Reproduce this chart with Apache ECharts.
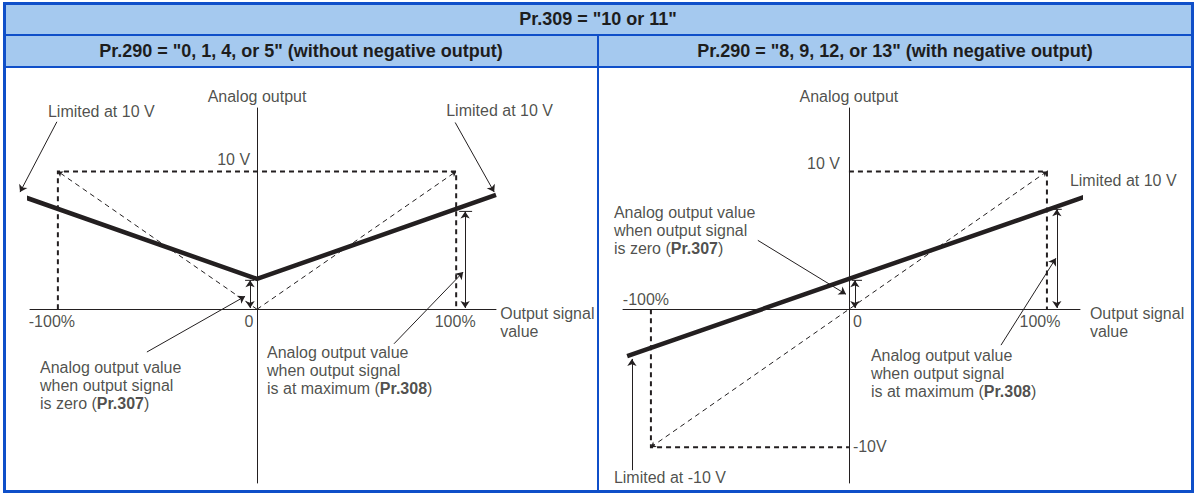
<!DOCTYPE html>
<html>
<head>
<meta charset="utf-8">
<title>Pr.309 analog output</title>
<script src="https://cdn.jsdelivr.net/npm/echarts@6/dist/echarts.min.js"></script>
<style>
  html, body { margin: 0; padding: 0; background: #ffffff; }
  #chart { width: 1197px; height: 495px; }
</style>
</head>
<body>
<div id="chart"></div>
<script>
// ---- table headings ----
const titleTop = 'Pr.309 = "10 or 11"';
const titleLeft = 'Pr.290 = "0, 1, 4, or 5" (without negative output)';
const titleRight = 'Pr.290 = "8, 9, 12, or 13" (with negative output)';

// ---- axis ticks (output signal %, analog output V) ----
const percentTicks = [-100, 0, 100];
const percentLabels = ['-100%', '0', '100%'];
const voltTop = 10;
const voltBottom = -10;

// ---- output characteristic (signal %, volts) ----
const leftOutput = [[-120, 8.3], [0, 2.2], [120, 8.3]];
const rightOutput = [[-112, -3.4], [0, 2.2], [120, 8.2]];

// ---- settings shown by the double arrows (V) ----
const zeroOutput = 2.1;      // Pr.307
const maxOutputLeft = 7.1;   // Pr.308, left
const maxOutputRight = 7.25; // Pr.308, right

// ---- reference frames (dashed) ----
const leftFrame = [[-100, 0], [-100, voltTop], [100, voltTop], [100, 0]];
const rightFrameTop = [[0, voltTop], [100, voltTop], [100, 0]];
const rightFrameBottom = [[-100, 0], [-100, voltBottom], [0, voltBottom]];

// ---- annotation texts ----
const axisYName = 'Analog output';
const axisXName = 'Output signal\nvalue';
const limitedTop = 'Limited at 10 V';
const limitedBottom = 'Limited at -10 V';
const zeroNote = 'Analog output value\nwhen output signal\nis zero ({b|Pr.307})';
const maxNote = 'Analog output value\nwhen output signal\nis at maximum ({b|Pr.308})';

const INK = '#231f20';
const BLUE = '#0f4fc9';
const FILL = '#a5c9ef';
const FONT = '"Liberation Sans", Arial, Helvetica, sans-serif';
const FS = 16;

const chart = echarts.init(document.getElementById('chart'), null, { renderer: 'svg' });

function axesFor(idx, xMin, xMax) {
  const common = {
    axisTick: { show: false }, axisLabel: { show: false }, splitLine: { show: false },
    axisLine: { show: true, onZero: true, lineStyle: { color: INK, width: 1 } }
  };
  return {
    x: Object.assign({ type: 'value', gridIndex: idx, min: xMin, max: xMax }, common),
    y: Object.assign({ type: 'value', gridIndex: idx, min: -12.6, max: 14.6 }, common)
  };
}
// left: 0 % at x=257, 1.99 px per %; right: 0 % at x=849, 1.98 px per %
const axL = axesFor(0, -114, 120);
const axR = axesFor(1, -114.1, 116.7);

function textSeries(idx, items) {
  return {
    type: 'scatter', xAxisIndex: idx, yAxisIndex: idx, symbolSize: 0, clip: false,
    silent: true, z: 10,
    data: items.map(t => ({
      value: [t.x, t.y],
      label: {
        show: true, position: 'inside', formatter: t.text,
        align: t.align || 'left', verticalAlign: t.va || 'middle',
        color: INK, fontFamily: FONT, fontSize: FS, lineHeight: 18,
        rich: { b: { fontWeight: 'bold', color: INK, fontFamily: FONT, fontSize: FS, lineHeight: 18 } }
      }
    }))
  };
}

function polyline(idx, data, width, dash, z) {
  return {
    type: 'line', xAxisIndex: idx, yAxisIndex: idx, data: data, symbol: 'none',
    silent: true, animation: false, z: z || 2,
    lineStyle: { color: INK, width: width, type: dash ? [5, 4] : 'solid', cap: 'butt', join: 'miter' }
  };
}

function arrows(idx, segs, width, dash, size) {
  return {
    type: 'lines', coordinateSystem: 'cartesian2d', xAxisIndex: idx, yAxisIndex: idx,
    silent: true, animation: false, clip: false, z: 4,
    symbolSize: size || 7,
    lineStyle: { color: INK, width: width, type: dash ? [5, 4] : 'solid', opacity: 1, curveness: 0 },
    data: segs.map(s => ({ coords: [s.from, s.to], symbol: s.sym }))
  };
}

const series = [
  // left panel
  polyline(0, leftFrame, 2, true),
  arrows(0, [
    { from: [0, 0], to: [-100, voltTop], sym: ['none', 'arrow'] },
    { from: [0, 0], to: [100, voltTop], sym: ['none', 'arrow'] }
  ], 1, true, 5),
  polyline(0, leftOutput, 4.5, false, 6),
  polyline(0, [[-6, zeroOutput], [-1.5, zeroOutput]], 1, false),
  polyline(0, [[101.5, maxOutputLeft], [108, maxOutputLeft]], 1, false),
  arrows(0, [
    { from: [-3.5, 0.1], to: [-3.5, zeroOutput], sym: ['arrow', 'arrow'] },
    { from: [104.5, 0.1], to: [104.5, maxOutputLeft], sym: ['arrow', 'arrow'] },
    { from: [-55.3, -3.1], to: [-6, 0.94], sym: ['none', 'arrow'] },
    { from: [68.8, -2.5], to: [103.5, 2.7], sym: ['none', 'arrow'] },
    { from: [-100.5, 13.6], to: [-119, 8.5], sym: ['none', 'arrow'] },
    { from: [99.5, 13.55], to: [119.1, 8.5], sym: ['none', 'arrow'] }
  ], 1, false, 7),
  textSeries(0, [
    { x: 0, y: 15.45, text: axisYName, align: 'center' },
    { x: -105, y: 14.36, text: limitedTop },
    { x: 95, y: 14.43, text: limitedTop },
    { x: -3.5, y: 10.88, text: voltTop + ' V', align: 'right' },
    { x: percentTicks[0] - 3, y: -0.87, text: percentLabels[0], align: 'center' },
    { x: percentTicks[1] - 4, y: -0.87, text: percentLabels[1], align: 'center' },
    { x: percentTicks[2] - 0.5, y: -0.87, text: percentLabels[2], align: 'center' },
    { x: 122.1, y: 0.36, text: axisXName, va: 'top' },
    { x: -109, y: -3.6, text: zeroNote, va: 'top' },
    { x: 5, y: -2.47, text: maxNote, va: 'top' }
  ]),

  // right panel
  polyline(1, rightFrameTop, 2, true),
  polyline(1, rightFrameBottom, 2, true),
  arrows(1, [
    { from: [-100, voltBottom], to: [100, voltTop], sym: ['arrow', 'arrow'] }
  ], 1, true, 5),
  polyline(1, rightOutput, 4.5, false, 6),
  polyline(1, [[1.5, zeroOutput], [6.6, zeroOutput]], 1, false),
  polyline(1, [[103, maxOutputRight], [107.5, maxOutputRight]], 1, false),
  arrows(1, [
    { from: [3, 0.1], to: [3, zeroOutput], sym: ['arrow', 'arrow'] },
    { from: [105, 0.1], to: [105, maxOutputRight], sym: ['arrow', 'arrow'] },
    { from: [-46, 5.0], to: [-1.5, 1.09], sym: ['none', 'arrow'] },
    { from: [76.8, -2.6], to: [104.5, 3.7], sym: ['none', 'arrow'] },
    { from: [-109.6, -11.67], to: [-109.6, -3.6], sym: ['none', 'arrow'] }
  ], 1, false, 7),
  textSeries(1, [
    { x: 0, y: 15.45, text: axisYName, align: 'center' },
    { x: -4.5, y: 10.59, text: voltTop + ' V', align: 'right' },
    { x: 111.6, y: 9.35, text: limitedTop },
    { x: -118.7, y: 7.69, text: zeroNote, va: 'top' },
    { x: percentTicks[0] - 2.5, y: 0.73, text: percentLabels[0], align: 'center' },
    { x: percentTicks[1] + 2, y: -0.87, text: percentLabels[1], align: 'left' },
    { x: percentTicks[2] - 3.5, y: -0.87, text: percentLabels[2], align: 'center' },
    { x: 121.7, y: 0.36, text: axisXName, va: 'top' },
    { x: 11.1, y: -2.68, text: maxNote, va: 'top' },
    { x: 2, y: -9.93, text: voltBottom + 'V' },
    { x: -118.7, y: -12.18, text: limitedBottom }
  ])
];

// table frame and headings
const HEAD_FONT = 'bold 18px ' + FONT;
const graphic = [
  { type: 'rect', shape: { x: 5, y: 4, width: 1187, height: 30 }, style: { fill: FILL }, silent: true, z: 0 },
  { type: 'rect', shape: { x: 5, y: 36, width: 1187, height: 30 }, style: { fill: FILL }, silent: true, z: 0 },
  { type: 'line', shape: { x1: 4, y1: 35, x2: 1193, y2: 35 }, style: { stroke: BLUE, lineWidth: 2 }, silent: true, z: 1 },
  { type: 'line', shape: { x1: 4, y1: 67, x2: 1193, y2: 67 }, style: { stroke: BLUE, lineWidth: 2 }, silent: true, z: 1 },
  { type: 'line', shape: { x1: 598, y1: 35, x2: 598, y2: 492 }, style: { stroke: BLUE, lineWidth: 2 }, silent: true, z: 1 },
  { type: 'rect', shape: { x: 4.5, y: 3.5, width: 1188, height: 488 }, style: { fill: 'none', stroke: BLUE, lineWidth: 3 }, silent: true, z: 2 },
  { type: 'text', x: 598, y: 19, style: { text: titleTop, fill: '#1d1d1d', font: HEAD_FONT, textAlign: 'center', textVerticalAlign: 'middle' }, silent: true, z: 3 },
  { type: 'text', x: 301, y: 51, style: { text: titleLeft, fill: '#1d1d1d', font: HEAD_FONT, textAlign: 'center', textVerticalAlign: 'middle' }, silent: true, z: 3 },
  { type: 'text', x: 895, y: 51, style: { text: titleRight, fill: '#1d1d1d', font: HEAD_FONT, textAlign: 'center', textVerticalAlign: 'middle' }, silent: true, z: 3 }
];

chart.setOption({
  animation: false,
  backgroundColor: '#ffffff',
  grid: [
    { left: 30, top: 108, width: 466, height: 375 },
    { left: 623, top: 108, width: 457, height: 375 }
  ],
  xAxis: [axL.x, axR.x],
  yAxis: [axL.y, axR.y],
  graphic: graphic,
  series: series
});
</script>
</body>
</html>
